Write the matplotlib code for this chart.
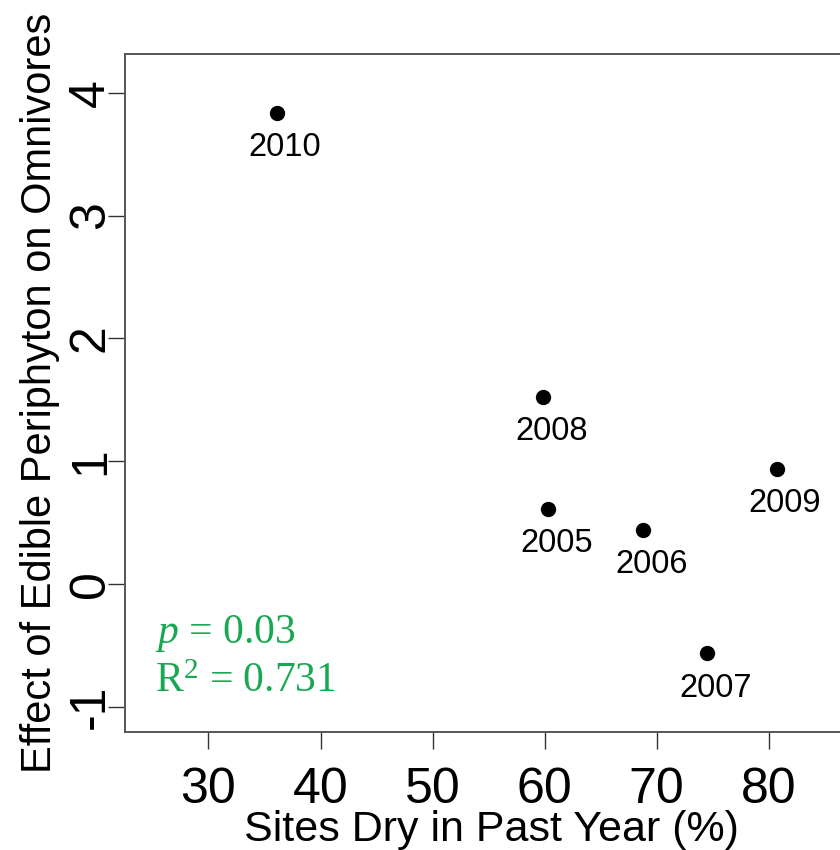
import matplotlib.pyplot as plt

plt.rcParams['font.family'] = ['Liberation Sans', 'DejaVu Sans']
plt.rcParams['mathtext.fontset'] = 'custom'
plt.rcParams['mathtext.rm'] = 'Liberation Serif'
plt.rcParams['mathtext.it'] = 'Liberation Serif:italic'

# effect of edible periphyton vs. site drying, one point per year
years = ["2010", "2008", "2009", "2005", "2006", "2007"]
dry_pct = [36.1, 59.9, 80.7, 60.3, 68.8, 74.5]
effect = [3.835, 1.52, 0.935, 0.61, 0.44, -0.565]

xticks = [30, 40, 50, 60, 70, 80]
yticks = [-1, 0, 1, 2, 3, 4]
ytick_labels = ["-1", "0", "1", "2", "3", "4"]

fig = plt.figure(figsize=(8.4, 8.5), dpi=100)
ax = fig.add_axes([0.1488, 0.1388, 0.873, 0.7976])

ax.plot(dry_pct, effect, 'o', color='black', markersize=10)
# year labels sit just below and a little right of each point
for x, y, lab in zip(dry_pct, effect, years):
    ax.annotate(lab, (x, y), xytext=(6, -25), textcoords='offset points',
                ha='center', va='center', fontsize=23.5)

green = '#19a852'
ax.text(25.2, -0.40, r'$p$ = 0.03', color=green, fontsize=30,
        family='Liberation Serif', ha='left', va='center')
ax.text(25.2, -0.80, r'R$^2$ = 0.731', color=green, fontsize=30,
        family='Liberation Serif', ha='left', va='center')

ax.set_xlim(22.55, 88)
ax.set_ylim(-1.206, 4.315)
ax.set_xticks(xticks)
ax.set_yticks(yticks)
ax.set_yticklabels(ytick_labels, rotation=90, va='center')
ax.tick_params(direction='out', length=12, width=1, color='#333333',
               labelsize=36)
ax.tick_params(axis='x', pad=13)
ax.tick_params(axis='y', pad=-4)
for s in ax.spines.values():
    s.set_color('#555555')
    s.set_linewidth(1.4)

ax.set_xlabel("Sites Dry in Past Year (%)", fontsize=31, labelpad=-2)
ax.set_ylabel("Effect of Edible Periphyton on Omnivores", fontsize=30, labelpad=6)

fig.savefig("out.png", dpi=100)
